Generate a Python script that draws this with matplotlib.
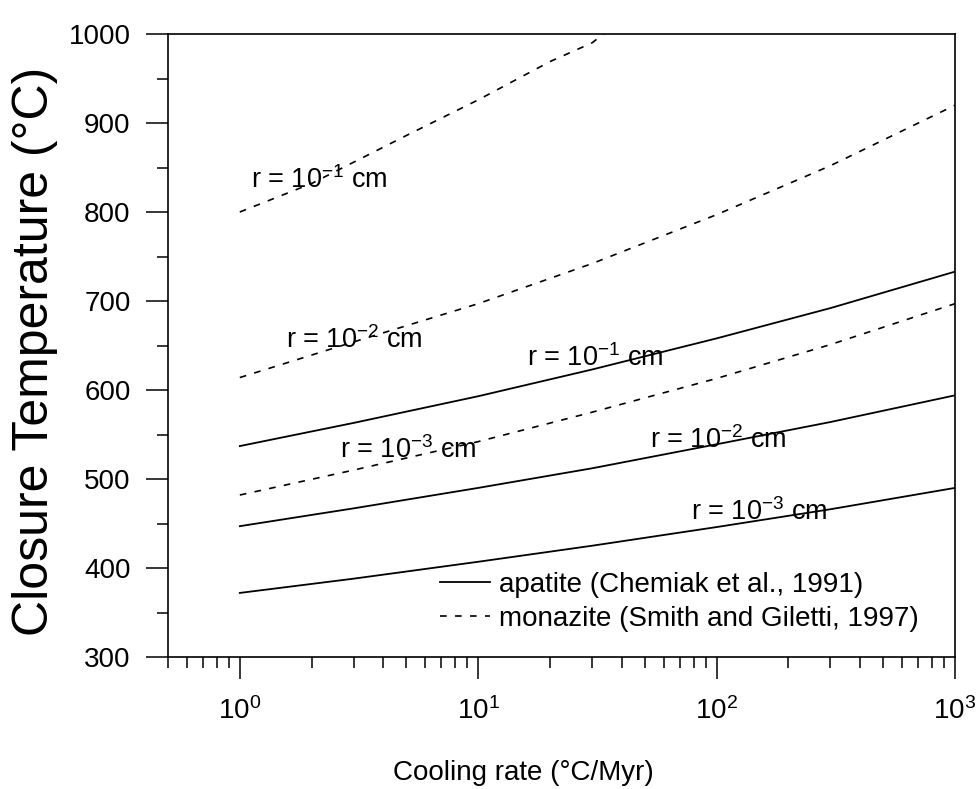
import matplotlib
matplotlib.use("Agg")
import matplotlib.pyplot as plt
from matplotlib.ticker import LogLocator, MultipleLocator

plt.rcParams['font.family'] = ['Liberation Sans', 'DejaVu Sans']
plt.rcParams['mathtext.default'] = 'regular'

# cooling rate (°C/Myr)
rates = [1, 3, 10, 30, 100, 300, 1000]
rates_hot = [1, 2, 5, 10, 20, 30, 40]

# closure temperatures (°C)
apatite_r1 = [537, 563, 593, 623, 658, 692, 733]
apatite_r2 = [447, 467, 490, 512, 539, 564, 594]
apatite_r3 = [372, 388, 407, 425, 446, 466, 490]
monazite_r1 = [800, 832, 886, 926, 969, 990, 1016]
monazite_r2 = [614, 654, 697, 742, 797, 852, 920]
monazite_r3 = [482, 510, 542, 575, 613, 651, 697]

# label text, x, y (data coords)
curve_labels = [
    ("r = 10$^{-1}$ cm", 1.11, 836),
    ("r = 10$^{-2}$ cm", 1.56, 656),
    ("r = 10$^{-3}$ cm", 2.64, 533),
    ("r = 10$^{-1}$ cm", 16.0, 636),
    ("r = 10$^{-2}$ cm", 52.5, 544),
    ("r = 10$^{-3}$ cm", 78.0, 463),
]

fig = plt.figure(figsize=(9.77, 7.89), dpi=100)
ax = fig.add_axes([0.172, 0.1673, 0.8055, 0.7896])

dash = (0, (4, 5))
ax.plot(rates, apatite_r1, color='black', lw=1.3, label='apatite (Chemiak et al., 1991)')
ax.plot(rates, apatite_r2, color='black', lw=1.3)
ax.plot(rates, apatite_r3, color='black', lw=1.3)
ax.plot(rates_hot, monazite_r1, color='black', lw=1.2, linestyle=dash,
        label='monazite (Smith and Giletti, 1997)')
ax.plot(rates, monazite_r2, color='black', lw=1.2, linestyle=dash)
ax.plot(rates, monazite_r3, color='black', lw=1.2, linestyle=dash)

for txt, x, y in curve_labels:
    ax.text(x, y, txt, fontsize=19.5, va='center', ha='left')

ax.set_xscale('log')
ax.set_xlim(0.5, 1000)
ax.set_ylim(300, 1000)
ax.yaxis.set_major_locator(MultipleLocator(100))
ax.yaxis.set_minor_locator(MultipleLocator(50))
ax.xaxis.set_major_locator(LogLocator(base=10))
ax.xaxis.set_minor_locator(LogLocator(base=10, subs=range(2, 10)))

ax.tick_params(which='major', direction='out', length=16, width=1.1, labelsize=20, pad=11)
ax.tick_params(which='minor', direction='out', length=8, width=1.1)
ax.tick_params(axis='x', which='major', pad=13)
for s in ax.spines.values():
    s.set_linewidth(1.2)

ax.set_ylabel('Closure Temperature (°C)', fontsize=36, va='center')
ax.yaxis.set_label_coords(-0.169, 0.49)
ax.set_xlabel('Cooling rate (°C/Myr)', fontsize=20, va='center')
ax.xaxis.set_label_coords(0.452, -0.186)

leg = ax.legend(loc='lower left', bbox_to_anchor=(0.346, 0.04), frameon=False,
                fontsize=20, handlelength=1.8, handletextpad=0.3, labelspacing=0.3,
                borderpad=0, borderaxespad=0)

fig.savefig('out.png', dpi=100)
